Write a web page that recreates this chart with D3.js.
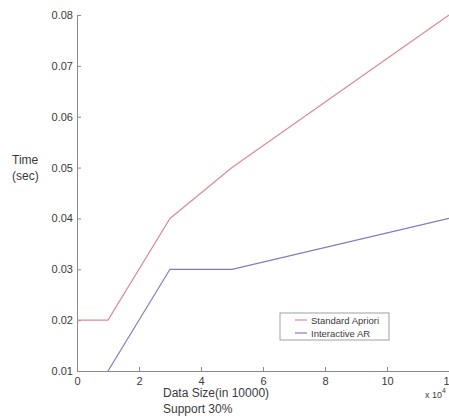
<!DOCTYPE html>
<html>
<head>
<meta charset="utf-8">
<script src="https://cdn.jsdelivr.net/npm/d3@7"></script>
<style>
  body { margin: 0; background: #fff; }
  text { font-family: "Liberation Sans", Arial, sans-serif; fill: #3a3a3a; }
</style>
</head>
<body>
<script>
// x values in units of 10^4 records
var sizes = [0, 1, 3, 5, 12];
var apriori = [0.02, 0.02, 0.04, 0.05, 0.08];
var sizesAR = [1, 3, 5, 12];
var interactive = [0.01, 0.03, 0.03, 0.04];
var xTicks = [0, 2, 4, 6, 8, 10, 12];
var yTicks = [0.01, 0.02, 0.03, 0.04, 0.05, 0.06, 0.07, 0.08];
var seriesNames = ["Standard Apriori", "Interactive AR"];
var colors = ["#dc8a96", "#7d7dc4"];

var W = 449, H = 417;
var svg = d3.select("body").append("svg").attr("width", W).attr("height", H);

var x = d3.scaleLinear().domain([0, 12]).range([77, 449]);
var y = d3.scaleLinear().domain([0.01, 0.08]).range([371, 15]);

var xAxis = d3.axisBottom(x).tickValues(xTicks).tickSizeInner(-4).tickSizeOuter(0).tickPadding(6);
var yAxis = d3.axisLeft(y).tickValues(yTicks).tickFormat(d3.format(".2f")).tickSizeInner(-4).tickSizeOuter(0).tickPadding(4);

var gx = svg.append("g").attr("transform", "translate(0,371)").call(xAxis);
var gy = svg.append("g").attr("transform", "translate(77,0)").call(yAxis);

[gx, gy].forEach(function(g) {
  g.select(".domain").attr("stroke", "#8a8a8a");
  g.selectAll(".tick line").attr("stroke", "#8a8a8a");
  g.selectAll(".tick text").attr("font-size", 11).attr("fill", "#3a3a3a")
    .attr("font-family", "Liberation Sans, Arial, sans-serif");
});

var line = d3.line()
  .x(function(d) { return x(d[0]); })
  .y(function(d) { return y(d[1]); });

svg.append("path")
  .datum(d3.zip(sizes, apriori))
  .attr("fill", "none").attr("stroke", colors[0]).attr("stroke-width", 1.2)
  .attr("d", line);

svg.append("path")
  .datum(d3.zip(sizesAR, interactive))
  .attr("fill", "none").attr("stroke", colors[1]).attr("stroke-width", 1.2)
  .attr("d", line);

// axis labels
svg.append("text").attr("x", 12).attr("y", 164).attr("font-size", 12).text("Time");
svg.append("text").attr("x", 12).attr("y", 180).attr("font-size", 12).text("(sec)");
svg.append("text").attr("x", 163).attr("y", 397).attr("font-size", 12).text("Data Size(in 10000)");
svg.append("text").attr("x", 163).attr("y", 413).attr("font-size", 12).text("Support 30%");

var mult = svg.append("text").attr("x", 425).attr("y", 398).attr("font-size", 9);
mult.append("tspan").text("x 10");
mult.append("tspan").attr("dy", -5).attr("font-size", 7).text("4");

// legend
var legend = svg.append("g").attr("transform", "translate(280,313)");
legend.append("rect").attr("width", 109).attr("height", 27)
  .attr("fill", "#fff").attr("stroke", "#a0a0a0");
seriesNames.forEach(function(name, i) {
  var ly = 7 + i * 13;
  legend.append("line").attr("x1", 15).attr("x2", 27).attr("y1", ly).attr("y2", ly)
    .attr("stroke", colors[i]).attr("stroke-width", 1.2);
  legend.append("text").attr("x", 31).attr("y", ly + 3.5).attr("font-size", 9.5).text(name);
});
</script>
</body>
</html>
